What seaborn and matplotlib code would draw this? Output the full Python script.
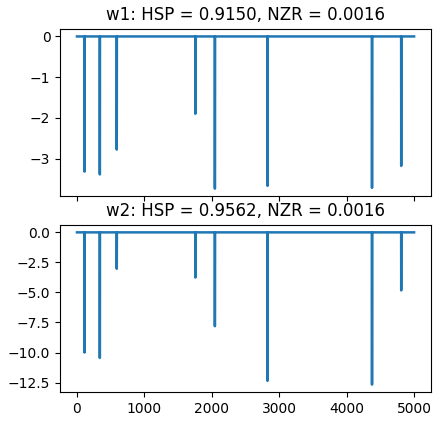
import matplotlib
matplotlib.use('Agg')

import numpy as np
import pandas as pd
import matplotlib.pyplot as plt
import seaborn as sns

# ========== DATA ==========
n_points = 5000
spike_idx = [112, 339, 590, 1755, 2045, 2826, 4375, 4808]
w1_spikes = [-3.32, -3.39, -2.78, -1.90, -3.74, -3.67, -3.72, -3.18]
w2_spikes = [-10.0, -10.45, -3.03, -3.76, -7.81, -12.36, -12.67, -4.83]
titles = ["w1: HSP = 0.9150, NZR = 0.0016",
          "w2: HSP = 0.9562, NZR = 0.0016"]

w1 = np.zeros(n_points)
w1[spike_idx] = w1_spikes
w2 = np.zeros(n_points)
w2[spike_idx] = w2_spikes

df = pd.DataFrame({'idx': np.arange(n_points), 'w1': w1, 'w2': w2})

# ========== PLOT ==========
fig, axes = plt.subplots(2, 1, figsize=(4.42, 4.24), dpi=100, sharex=True)
fig.subplots_adjust(left=0.136, right=0.975, top=0.932, bottom=0.075, hspace=0.17)

for ax, col, title in zip(axes, ['w1', 'w2'], titles):
    sns.lineplot(data=df, x='idx', y=col, ax=ax, color='#1f77b4', linewidth=1.8)
    ax.set_title(title)
    ax.set_xlabel('')
    ax.set_ylabel('')

axes[1].set_xticks([0, 1000, 2000, 3000, 4000, 5000])

fig.savefig('out.png', dpi=100)
